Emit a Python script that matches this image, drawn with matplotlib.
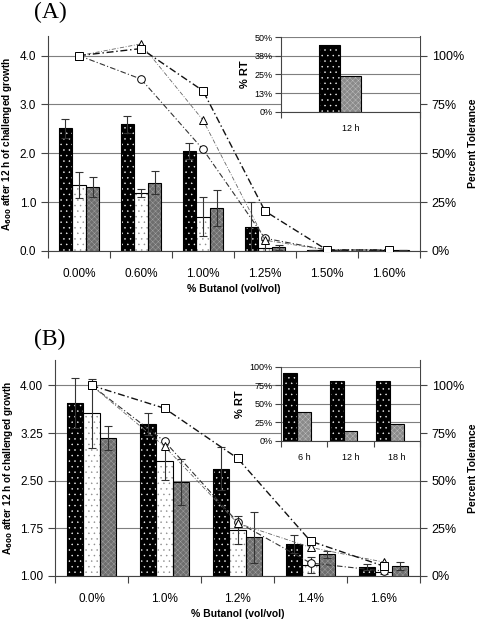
import matplotlib
matplotlib.use("Agg")
import matplotlib.pyplot as plt
import numpy as np
from matplotlib.ticker import FixedLocator, FuncFormatter

plt.rcParams['font.family'] = ['Liberation Sans', 'DejaVu Sans']
plt.rcParams['hatch.linewidth'] = 0.3

# ---------------- Panel A data ----------------
catA = ["0.00%", "0.60%", "1.00%", "1.25%", "1.50%", "1.60%"]
a_black = [2.51, 2.59, 2.05, 0.50, 0.01, 0.01]
a_black_err = [0.20, 0.17, 0.17, 0.50, 0.0, 0.0]
a_white = [1.35, 1.18, 0.70, 0.07, 0.01, 0.01]
a_white_err = [0.27, 0.08, 0.40, 0.15, 0.0, 0.0]
a_gray = [1.31, 1.40, 0.88, 0.08, 0.01, 0.01]
a_gray_err = [0.20, 0.23, 0.36, 0.05, 0.0, 0.0]
a_sq = [100, 103.6, 82, 20.4, 0.5, 0.5]
a_tri = [100, 106, 67, 5.5, 0.5, 0.5]
a_cir = [100, 88, 52, 6.5, 0.5, 0.5]
insA_cat = ["12 h"]
insA_black = [45]
insA_gray = [24]

# ---------------- Panel B data ----------------
catB = ["0.0%", "1.0%", "1.2%", "1.4%", "1.6%"]
b_black = [3.72, 3.39, 2.69, 1.50, 1.14]
b_black_err = [0.39, 0.17, 0.34, 0.14, 0.05]
b_white = [3.56, 2.81, 1.73, 1.17, 1.07]
b_white_err = [0.54, 0.30, 0.22, 0.13, 0.04]
b_gray = [3.17, 2.48, 1.61, 1.34, 1.16]
b_gray_err = [0.19, 0.36, 0.40, 0.05, 0.06]
b_sq = [100, 88, 61.8, 18.3, 5.2]
b_tri = [100, 68, 27.7, 15, 7.3]
b_cir = [100, 70.7, 28.3, 6.8, 2.6]
insB_cat = ["6 h", "12 h", "18 h"]
insB_black = [92, 81.5, 81]
insB_gray = [39.7, 14, 23.6]

fig = plt.figure(figsize=(4.8, 6.22), dpi=100)


def hbar(ax, x, h, w, fc, hatch, hc, bottom=0, z=2):
    ax.bar(x, h, w, bottom=bottom, color=fc, edgecolor=hc, hatch=hatch,
           linewidth=0, zorder=z)
    ax.bar(x, h, w, bottom=bottom, fill=False, edgecolor='black',
           linewidth=0.8, zorder=z + 0.1)


def style_black(ax, x, h, w):
    hbar(ax, x, h, w, 'black', '...', 'white')


def style_white(ax, x, h, w):
    hbar(ax, x, h, w, 'white', '...', '#8a8a8a')


def style_gray(ax, x, h, w):
    hbar(ax, x, h, w, '#6e6e6e', 'xxxxxx', '#a8a8a8')


def main_panel(rect, cats, blk, blke, wht, whte, gry, grye, sq, tri, cir,
               ylim, yticks, yfmt, rlim, width):
    ax = fig.add_axes(rect)
    n = len(cats)
    x = np.arange(n)
    style_black(ax, x - width, blk, width)
    style_white(ax, x, wht, width)
    style_gray(ax, x + width, gry, width)
    ekw = dict(fmt='none', ecolor='#333333', elinewidth=0.8, capsize=3,
               capthick=0.8, zorder=4)
    ax.errorbar(x - width, blk, yerr=blke, **ekw)
    ax.errorbar(x, wht, yerr=whte, **ekw)
    ax.errorbar(x + width, gry, yerr=grye, **ekw)
    ax.set_xlim(-0.5, n - 0.5)
    ax.set_ylim(*ylim)
    ax.set_yticks(yticks)
    ax.yaxis.set_major_formatter(FuncFormatter(lambda v, p: yfmt.format(v)))
    ax.set_xticks(x)
    ax.set_xticklabels(cats, fontsize=8.5)
    ax.xaxis.set_minor_locator(FixedLocator(np.arange(n + 1) - 0.5))
    ax.tick_params(axis='x', which='major', length=0, pad=12)
    ax.tick_params(axis='x', which='minor', length=5, width=0.8,
                   direction='out', color='#444444')
    ax.tick_params(axis='y', length=5, width=0.8, direction='out',
                   labelsize=8.5, color='#444444')
    ax.grid(axis='y', color='#7f7f7f', linewidth=0.8)
    ax.set_axisbelow(True)
    for s in ['top', 'right']:
        ax.spines[s].set_visible(False)
    for s in ['left', 'bottom']:
        ax.spines[s].set_color('#444444')
        ax.spines[s].set_linewidth(0.8)
    ax.set_xlabel('% Butanol (vol/vol)', fontsize=7.5, fontweight='bold',
                  labelpad=3)
    ax.set_ylabel(r'A$_{\mathbf{600}}$ after 12 h of challenged growth',
                  fontsize=7.2, fontweight='bold', labelpad=4)

    axr = ax.twinx()
    axr.set_ylim(*rlim)
    axr.set_yticks([0, 25, 50, 75, 100])
    axr.yaxis.set_major_formatter(FuncFormatter(lambda v, p: f"{v:.0f}%"))
    axr.tick_params(axis='y', length=5, width=0.8, direction='out',
                    labelsize=9, color='#444444')
    for s in ['top', 'left', 'bottom']:
        axr.spines[s].set_visible(False)
    axr.spines['right'].set_color('#444444')
    axr.spines['right'].set_linewidth(0.8)
    axr.set_ylabel('Percent Tolerance', fontsize=7.5, fontweight='bold',
                   labelpad=3)
    mk = dict(markerfacecolor='white', markeredgecolor='black',
              markeredgewidth=0.7, markersize=5.5)
    axr.plot(x, cir, linestyle=(0, (5, 2, 1, 2)), color='#333333',
             linewidth=0.8, marker='o', **mk)
    axr.plot(x, tri, linestyle=(0, (5, 2, 1, 2)), color='#666666',
             linewidth=0.6, marker='^', **mk)
    axr.plot(x, sq, linestyle=(0, (5, 2, 1, 2)), color='#111111',
             linewidth=1.0, marker='s', **mk)
    return ax, axr


def inset(rect, cats, blk, gry, ymax, yt, ylabels, width, xoff):
    ai = fig.add_axes(rect)
    ai.set_facecolor('white')
    n = len(cats)
    x = np.arange(n)
    style_black(ai, x - xoff, blk, width)
    hbar(ai, x - xoff + width, gry, width, '#8a8a8a', 'xxxxxx', '#c4c4c4')
    ai.set_xlim(-0.5, n - 0.5)
    ai.set_ylim(0, ymax)
    ai.set_yticks(yt)
    ai.set_yticklabels(ylabels, fontsize=6.5)
    ai.set_xticks(x)
    ai.set_xticklabels(cats, fontsize=6.5)
    ai.xaxis.set_minor_locator(FixedLocator(np.arange(n + 1) - 0.5))
    ai.tick_params(axis='x', which='major', length=0, pad=9)
    ai.tick_params(axis='x', which='minor', length=4, width=0.8,
                   direction='out', color='#444444')
    ai.tick_params(axis='y', length=4, width=0.8, direction='out',
                   color='#444444', pad=2)
    ai.grid(axis='y', color='#7f7f7f', linewidth=0.8)
    ai.set_axisbelow(True)
    for s in ['top', 'right']:
        ai.spines[s].set_visible(False)
    for s in ['left', 'bottom']:
        ai.spines[s].set_color('#444444')
        ai.spines[s].set_linewidth(0.8)
    ai.set_ylabel('% RT', fontsize=8, fontweight='bold', labelpad=3)
    return ai


# Panel A
main_panel([0.100, 0.5965, 0.775, 0.3455], catA, a_black, a_black_err,
           a_white, a_white_err, a_gray, a_gray_err, a_sq, a_tri, a_cir,
           (0, 4.4), [0, 1, 2, 3, 4], "{:.1f}", (0, 110), 0.22)
inset([0.5854, 0.820, 0.2896, 0.1205], insA_cat, insA_black, insA_gray,
      50, [0, 12.5, 25, 37.5, 50], ["0%", "13%", "25%", "38%", "50%"],
      0.15, 0.15)

# Panel B
main_panel([0.1146, 0.074, 0.7604, 0.3472], catB, b_black, b_black_err,
           b_white, b_white_err, b_gray, b_gray_err, b_sq, b_tri, b_cir,
           (1.0, 4.4), [1.0, 1.75, 2.5, 3.25, 4.0], "{:.2f}",
           (0, 340 / 3), 0.225)
inset([0.5854, 0.291, 0.2896, 0.119], insB_cat, insB_black, insB_gray,
      100, [0, 25, 50, 75, 100], ["0%", "25%", "50%", "75%", "100%"],
      0.3, 0.3)

fig.text(0.07, 0.997, '(A)', family='Liberation Serif', fontsize=17,
         va='top', ha='left')
fig.text(0.07, 0.471, '(B)', family='Liberation Serif', fontsize=17,
         va='top', ha='left')

fig.savefig('out.png', dpi=100)
